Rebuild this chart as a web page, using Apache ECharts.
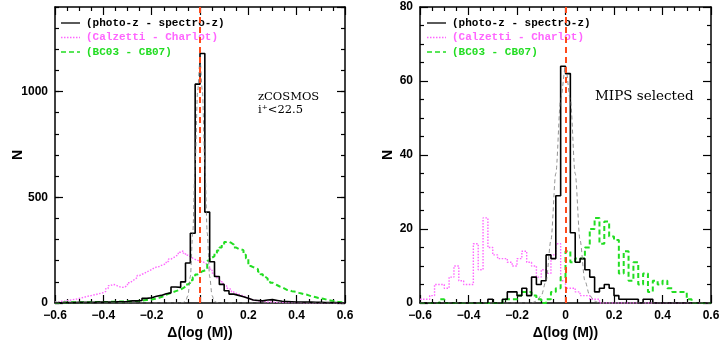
<!DOCTYPE html>
<html>
<head>
    <meta charset="utf-8">
    <title>Δ(log M) histograms</title>
    <script src="https://cdn.jsdelivr.net/npm/echarts@6/dist/echarts.min.js"></script>
</head>
<body style="margin:0;background:#fff">
    <div id="main" style="width:728px;height:351px;"></div>
    <script type="text/javascript">
        // histogram bins start at -0.6
        var binStart = -0.6;

        // left panel: zCOSMOS i+<22.5, black bins 0.02, pink/green bins 0.01
        var leftPhotoZ = [1,2,2,2,3,3,3,3,4,4,5,5,6,6,7, 10,10,12, 22,25, 32,36, 44,48, 76,74,
            100, 189, 330, 1035, 1180, 430, 195, 125, 88, 58, 42, 36, 30, 22, 14, 12, 10, 14, 16, 12, 8, 7,
            6,5,5,4,4,3,3,2,2,2,1,1];
        var leftCalzetti = [5,6,8,9,11,13,15,17,19,22, 24,27,30,33,35,38,40,44,46,49,
            55,68,82,88,86,80,76,74,76,84, 96,104,112,120,130,136,140,148,152,158,
            166,170,172,178,182,186,196,208,214,222, 228,240,246,236,226,220,212,206,202,198,
            196,190,182,172,160,142,128,116,105,92, 82,70,62,52,46,42,38,34,28,22,
            18,14,12,10,9,8,6,5,5,4, 3,3,3,3,2,2,2,2,2,2,
            2,2,1,1,1,1,1,1,1,1, 1,1,1,1,0,0,0,0,0,0];
        var leftBC03 = [1,1,2,2,2,2,3,3,3,3, 3,4,4,4,4,5,5,5,5,5,
            5,5,6,6,6,6,7,7,7,8, 8,9,9,10,11,12,13,14,15,17,
            19,21,24,28,32,38,44,48,52,56, 60,64,70,78,88,96,108,122,135,142,
            150,154,158,200,214,222,236,248,262,276, 288,290,284,276,262,256,254,250,228,210,
            175,170,165,160,148,136,124,116,106,96, 90,84,78,74,68,62,60,56,54,52,
            48,45,42,40,36,32,30,27,24,22, 20,17,14,12,10,8,6,5,4,3];
        var leftGaussX = [-0.6,-0.09,-0.08,-0.07,-0.06,-0.05,-0.04,-0.03,-0.02,-0.01,0,
            0.01,0.02,0.03,0.04,0.05,0.06,0.07,0.08,0.09,0.6];
        var leftGaussN = [0,0,1,2,8,35,125,330,660,1000,1150,1000,660,330,125,35,8,2,1,0,0];

        // right panel: MIPS selected, all bins 0.02
        var rightPhotoZ = [0,0,0,0,0,0,0,0,0,0, 0,0,0,0,1,0,0,1,3,3,
            2,4,2,7,5,6,13,12,29,64, 62,19,11,12,9,7,3,4,5,4,
            2,1,1,1,1,0,1,1,0,0, 0,0,0,0,0,0,0,0,0,0];
        var rightCalzetti = [1,1,2,5,5,4,7,10,6,5, 5,16,9,23,15,13,12,12,11,10,
            12,14,11,10,7,9,8,13,16,6, 4,4,3,2,2,1,1,0,0,0,
            0,0,0,0,0,0,0,0,0,0, 0,0,0,0,0,0,0,0,0,0];
        var rightBC03 = [0,0,0,0,1,0,0,0,0,0, 0,0,0,0,0,0,0,1,1,1,
            2,3,3,2,1,0,1,3,4,7, 14,11,12,12,15,20,23,16,22,18,
            17,8,14,6,11,5,8,3,6,5, 6,4,3,3,3,1,0,0,0,0];
        var rightGaussX = [-0.6,-0.14,-0.12,-0.1,-0.08,-0.06,-0.04,-0.02,0,0.02,0.04,0.06,0.08,0.1,0.12,0.14,0.6];
        var rightGaussN = [0,0,0.5,2,6,17,35,55,64,55,35,17,6,2,0.5,0,0];

        var names = ['(photo-z - spectro-z)', '(Calzetti - Charlot)', '(BC03 - CB07)'];
        var colors = ['#000000', '#ff66ff', '#22dd22'];

        function stepData(vals, width) {
            var pts = vals.map(function (v, i) {
                return [+(binStart + i * width).toFixed(3), v];
            });
            pts.push([+(binStart + vals.length * width).toFixed(3), vals[vals.length - 1]]);
            return pts;
        }
        function pairs(xs, ys) {
            return xs.map(function (x, i) { return [x, ys[i]]; });
        }

        var labelFont = {color: '#000', fontFamily: 'Liberation Sans', fontSize: 12, fontWeight: 'bold'};
        var nameFont = {color: '#000', fontFamily: 'Liberation Sans', fontSize: 14, fontWeight: 'bold'};
        var tickLine = {color: '#000', width: 1.2};

        function xAxis(grid, top) {
            return {
                type: 'value', gridIndex: grid, position: top ? 'top' : 'bottom',
                min: -0.6, max: 0.6, interval: 0.2,
                axisLine: {onZero: false, lineStyle: {color: '#000', width: 1.5}},
                axisTick: {inside: true, length: 8, lineStyle: tickLine},
                minorTick: {show: true, splitNumber: 4, length: 4, lineStyle: tickLine},
                splitLine: {show: false},
                axisLabel: top ? {show: false} : Object.assign({
                    margin: 7,
                    formatter: function (v) { return v === 0 ? '0' : v.toFixed(1).replace('-', '\u2212'); }
                }, labelFont),
                name: top ? '' : 'Δ(log (M))', nameLocation: 'middle', nameGap: 23, nameTextStyle: nameFont,
                nameMoveOverlap: false
            };
        }
        function yAxis(grid, right, max, interval, opts) {
            var ax = {
                type: 'value', gridIndex: grid, position: right ? 'right' : 'left',
                min: 0, max: max, interval: interval,
                axisLine: {onZero: false, lineStyle: {color: '#000', width: 1.5}},
                axisTick: {inside: true, length: 8, lineStyle: tickLine},
                splitLine: {show: false},
                axisLabel: right ? {show: false} : Object.assign({
                    margin: 7, showMaxLabel: max === 80,
                    formatter: function (v) { return String(v); }
                }, labelFont),
                name: right ? '' : 'N', nameLocation: 'middle', nameRotate: 90, nameTextStyle: nameFont,
                nameMoveOverlap: false
            };
            return Object.assign(ax, opts || {});
        }
        var minorY = {
            axisLine: {show: false, onZero: false}, axisLabel: {show: false}, name: '',
            axisTick: {inside: true, length: 4, lineStyle: tickLine}
        };
        var minorY5 = {show: true, splitNumber: 4, length: 4, lineStyle: tickLine};

        var myChart = echarts.init(document.getElementById('main'));

        var pinkStyle = {color: colors[1], width: 1.4, type: [1.5, 1.5]};
        var greenStyle = {color: colors[2], width: 2, type: [5, 3]};
        var blackStyle = {color: colors[0], width: 1.6};
        var gaussStyle = {color: '#777', width: 0.8, type: [4, 3]};
        var styles = [blackStyle, pinkStyle, greenStyle];

        function hist(k, data, xi, yi) {
            return {
                name: names[k], type: 'line', step: 'end', xAxisIndex: xi, yAxisIndex: yi,
                data: data, symbol: 'none', lineStyle: styles[k], itemStyle: {color: colors[k]}, silent: true
            };
        }
        var redLine = {
            silent: true, symbol: 'none', label: {show: false},
            lineStyle: {color: '#ff4a1a', width: 2, type: [6, 4]},
            data: [{xAxis: 0}]
        };

        // legend drawn as line samples + coloured text, top-left of each panel
        function legendItems(x0) {
            var out = [];
            names.forEach(function (n, i) {
                var y = 23 + i * 14.5;
                var s = styles[i];
                out.push({type: 'line', silent: true,
                    shape: {x1: x0, y1: y, x2: x0 + 19, y2: y},
                    style: {stroke: s.color, lineWidth: Math.min(s.width, 1.3), lineDash: s.type || null}});
                out.push({type: 'text', silent: true, x: x0 + 25, y: y,
                    style: {text: n, fill: colors[i], font: 'bold 11px "Liberation Mono"', verticalAlign: 'middle'}});
            });
            return out;
        }

        var option = {
            animation: false,
            backgroundColor: '#fff',
            grid: [
                {left: 55, top: 7, width: 290, height: 296},
                {left: 420, top: 7, width: 291, height: 296}
            ],
            xAxis: [xAxis(0, false), xAxis(0, true), xAxis(1, false), xAxis(1, true)],
            yAxis: [
                yAxis(0, false, 1400, 500, {nameGap: 30}),
                yAxis(0, true, 1400, 500),
                yAxis(0, false, 1400, 100, minorY),
                yAxis(0, true, 1400, 100, minorY),
                yAxis(1, false, 80, 20, {nameGap: 25, minorTick: minorY5}),
                yAxis(1, true, 80, 20, {minorTick: minorY5})
            ],
            graphic: legendItems(61).concat(legendItems(427)).concat([
                {type: 'text', left: 258, top: 91, style: {text: 'zCOSMOS', font: '11.5px "DejaVu Serif"', fill: '#000'}},
                {type: 'text', left: 258, top: 104, style: {text: 'i\u207a<22.5', font: '11.5px "DejaVu Serif"', fill: '#000'}},
                {type: 'text', left: 595, top: 89, style: {text: 'MIPS selected', font: '13.5px "DejaVu Serif"', fill: '#000'}}
            ]),
            series: [
                hist(1, stepData(leftCalzetti, 0.01), 0, 0),
                hist(2, stepData(leftBC03, 0.01), 0, 0),
                Object.assign(hist(0, stepData(leftPhotoZ, 0.02), 0, 0), {markLine: redLine}),
                {type: 'line', xAxisIndex: 0, yAxisIndex: 0, data: pairs(leftGaussX, leftGaussN),
                    symbol: 'none', smooth: 0.3, smoothMonotone: 'x', lineStyle: gaussStyle, silent: true},
                hist(1, stepData(rightCalzetti, 0.02), 2, 4),
                hist(2, stepData(rightBC03, 0.02), 2, 4),
                Object.assign(hist(0, stepData(rightPhotoZ, 0.02), 2, 4), {markLine: redLine}),
                {type: 'line', xAxisIndex: 2, yAxisIndex: 4, data: pairs(rightGaussX, rightGaussN),
                    symbol: 'none', smooth: 0.3, smoothMonotone: 'x', lineStyle: gaussStyle, silent: true}
            ]
        };
        myChart.setOption(option);
    </script>
</body>
</html>
